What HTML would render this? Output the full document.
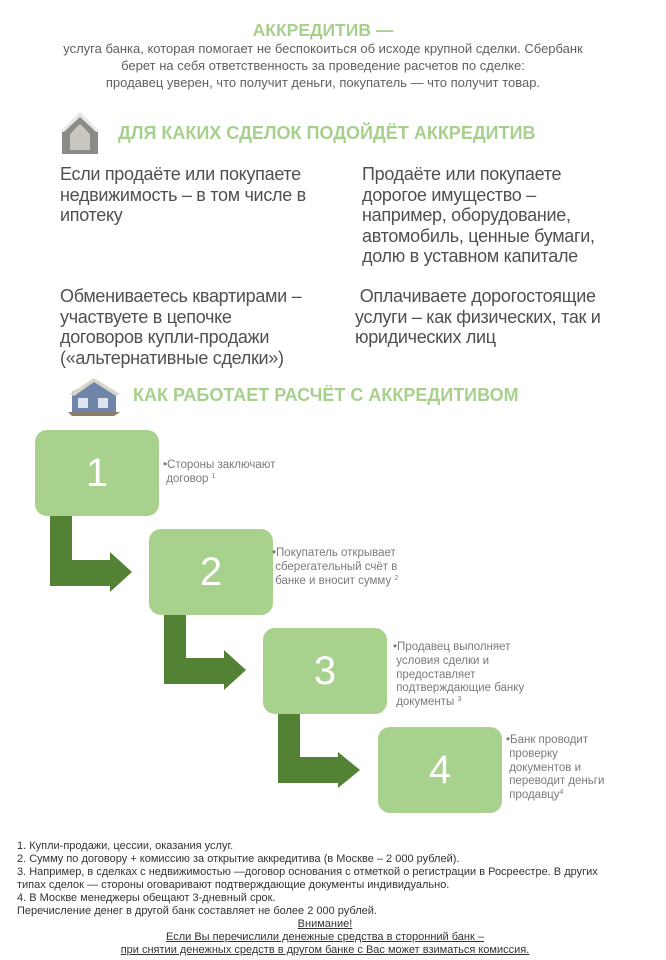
<!DOCTYPE html>
<html><head><meta charset="utf-8"><style>
body{margin:0;width:666px;height:960px;background:#fff;position:relative;overflow:hidden;font-family:"Liberation Sans",Arial,sans-serif;color:#555}
.a{position:absolute;white-space:nowrap}
.t{font-size:13px;line-height:17px;text-align:center;left:0;width:646px;color:#606060}
.h{font-weight:bold;color:#a8d08d;font-size:17.5px}
.b{font-size:18px;line-height:20.5px;color:#505050;letter-spacing:-0.3px}
.s{font-size:11.5px;line-height:13.8px;color:#7a7a7a}
.s sup{font-size:7px;line-height:0;vertical-align:4px}
.f{font-size:11px;line-height:13px;color:#333;left:17px}
.box{position:absolute;width:124px;height:86px;border-radius:12px;background:#a9d18e;color:#fff;font-size:40px;text-align:center;line-height:86px}
</style></head><body>
<div class="a h" style="left:0;width:646px;text-align:center;top:20px">АККРЕДИТИВ —</div>
<div class="a t" style="top:40px">услуга банка, которая помогает не беспокоиться об исходе крупной сделки. Сбербанк<br>берет на себя ответственность за проведение расчетов по сделке:<br>продавец уверен, что получит деньги, покупатель — что получит товар.</div>

<svg class="a" style="left:56px;top:110px" width="50" height="48"><polygon points="6,20 24,4 42,20 42,44 6,44" fill="#8a8a86"/><polygon points="14,24 24,14 34,24 34,40 14,40" fill="#c9c6bd"/><polygon points="4,22 24,2 44,22 40,22 24,7 8,22" fill="#e8e6e0"/></svg>
<div class="a h" style="left:118px;top:123px;font-size:18px">ДЛЯ КАКИХ СДЕЛОК ПОДОЙДЁТ АККРЕДИТИВ</div>

<div class="a b" style="left:60px;top:164px">Если продаёте или покупаете<br>недвижимость – в том числе в<br>ипотеку</div>
<div class="a b" style="left:362px;top:164px">Продаёте или покупаете<br>дорогое имущество –<br>например, оборудование,<br>автомобиль, ценные бумаги,<br>долю в уставном капитале</div>
<div class="a b" style="left:60px;top:286px">Обмениваетесь квартирами –<br>участвуете в цепочке<br>договоров купли-продажи<br>(«альтернативные сделки»)</div>
<div class="a b" style="left:355px;top:286px">&nbsp;Оплачиваете дорогостоящие<br>услуги – как физических, так и<br>юридических лиц</div>

<svg class="a" style="left:68px;top:378px" width="54" height="38"><polygon points="4,14 26,2 48,14 48,34 4,34" fill="#6f86aa"/><polygon points="2,16 26,0 52,16 48,18 26,4 6,18" fill="#d9d4c8"/><rect x="10" y="20" width="10" height="10" fill="#dde4ef"/><rect x="30" y="20" width="10" height="10" fill="#dde4ef"/><polygon points="0,34 52,34 46,38 4,38" fill="#8a7c6a"/></svg>
<div class="a h" style="left:133px;top:385px;font-size:18px">КАК РАБОТАЕТ РАСЧЁТ С АККРЕДИТИВОМ</div>

<svg class="a" style="left:0;top:0" width="666" height="960">
<g fill="#548235">
<polygon points="50,515 72,515 72,560 110,560 110,552 132,572 110,592 110,586 50,586"/>
<polygon points="164,613 186,613 186,658 224,658 224,650 246,670 224,690 224,684 164,684"/>
<polygon points="278,711 300,711 300,757 338,757 338,752 360,770 338,788 338,783 278,783"/>
</g></svg>

<div class="box" style="left:35px;top:430px">1</div>
<div class="box" style="left:149px;top:529px">2</div>
<div class="box" style="left:263px;top:628px">3</div>
<div class="box" style="left:378px;top:727px">4</div>

<div class="a s" style="left:163px;top:459px">•Стороны заключают<br>&nbsp;договор <sup>1</sup></div>
<div class="a s" style="left:272px;top:547px">•Покупатель открывает<br>&nbsp;сберегательный счёт в<br>&nbsp;банке и вносит сумму <sup>2</sup></div>
<div class="a s" style="left:393px;top:641px">•Продавец выполняет<br>&nbsp;условия сделки и<br>&nbsp;предоставляет<br>&nbsp;подтверждающие банку<br>&nbsp;документы <sup>3</sup></div>
<div class="a s" style="left:506px;top:734px">•Банк проводит<br>&nbsp;проверку<br>&nbsp;документов и<br>&nbsp;переводит деньги<br>&nbsp;продавцу<sup>4</sup></div>

<div class="a f" style="top:840px">1. Купли-продажи, цессии, оказания услуг.<br>2. Сумму по договору + комиссию за открытие аккредитива (в Москве – 2 000 рублей).<br>3. Например, в сделках с недвижимостью —договор основания с отметкой о регистрации в Росреестре. В других<br>типах сделок — стороны оговаривают подтверждающие документы индивидуально.<br>4. В Москве менеджеры обещают 3-дневный срок.<br>Перечисление денег в другой банк составляет не более 2 000 рублей.</div>
<div class="a f" style="left:0;width:650px;text-align:center;top:918px;text-decoration:underline">Внимание!<br>Если Вы перечислили денежные средства в сторонний банк –<br>при снятии денежных средств в другом банке с Вас может взиматься комиссия.</div>
</body></html>
